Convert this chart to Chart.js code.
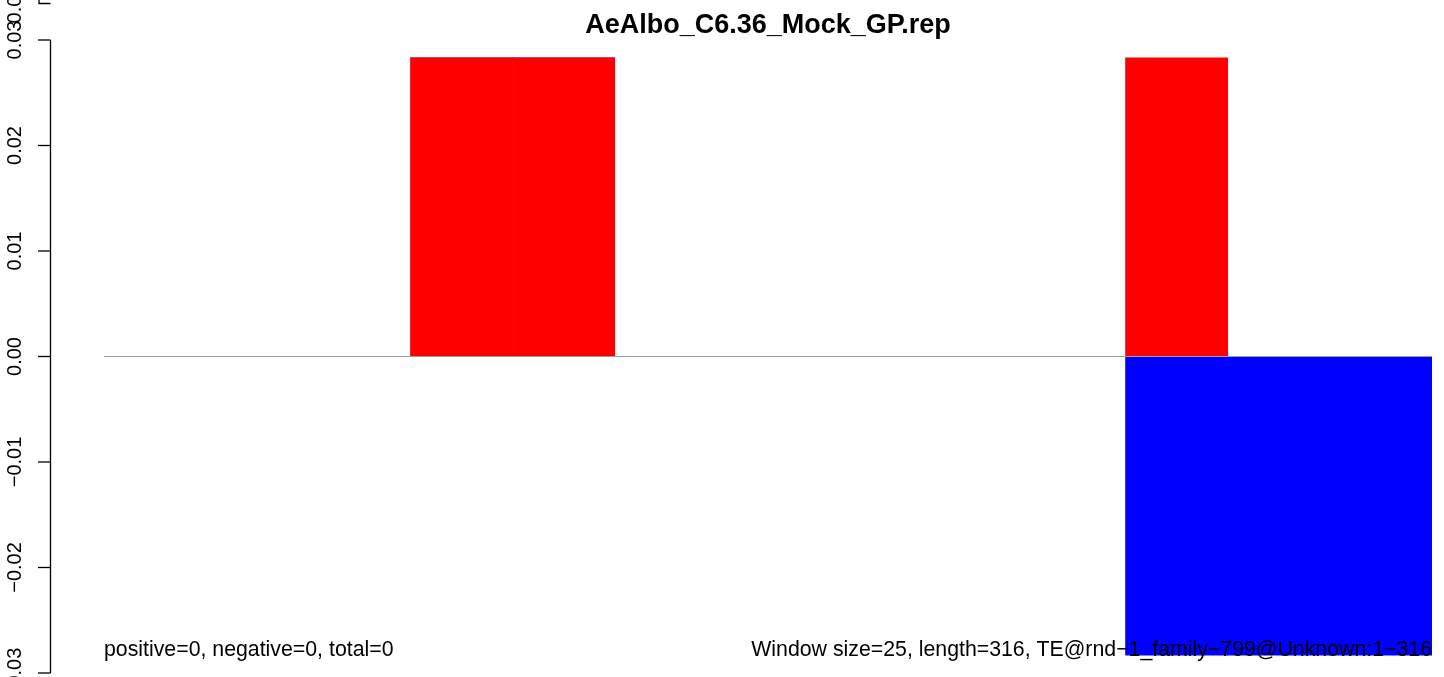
<!DOCTYPE html>
<html>
<head>
<meta charset="utf-8">
<title>AeAlbo_C6.36_Mock_GP.rep</title>
<script src="https://cdn.jsdelivr.net/npm/chart.js@4/dist/chart.umd.min.js"></script>
<style>
    html, body { margin: 0; padding: 0; background: #ffffff; }
    canvas { display: block; }
</style>
</head>
<body>
<canvas id="rep-chart" width="1444" height="677"></canvas>
<script>
// windows of 25 along the 316 bp element
var bins = ['1-25', '26-50', '51-75', '76-100', '101-125', '126-150', '151-175',
            '176-200', '201-225', '226-250', '251-275', '276-300', '301-316'];
var positiveValues = [0, 0, 0, 0.0283, 0.0283, 0, 0, 0, 0, 0, 0.0283, 0, 0];
var negativeValues = [0, 0, 0, 0, 0, 0, 0, 0, 0, 0, -0.0283, -0.0283, -0.0283];
var tickValues = [-0.03, -0.02, -0.01, 0.00, 0.01, 0.02, 0.03];
var tickLabels = ['\u22120.03', '\u22120.02', '\u22120.01', '0.00', '0.01', '0.02', '0.03'];

var chartTitle = 'AeAlbo_C6.36_Mock_GP.rep';
var leftNote = 'positive=0, negative=0, total=0';
var rightNote = 'Window size=25, length=316, TE@rnd\u22121_family\u2212799@Unknown:1\u2212316';

var fontFamily = '"Liberation Sans", Arial, Helvetica, sans-serif';

// R style axis, zero line and texts
var rDecorations = {
    id: 'rDecorations',
    afterDatasetsDraw: function(chart) {
        var ctx = chart.ctx;
        var area = chart.chartArea;
        var yScale = chart.scales.y;
        var zeroY = yScale.getPixelForValue(0);

        ctx.save();

        // horizontal line at zero
        ctx.strokeStyle = '#9c9c9c';
        ctx.lineWidth = 1.2;
        ctx.beginPath();
        ctx.moveTo(area.left, zeroY);
        ctx.lineTo(area.right, zeroY);
        ctx.stroke();

        // y axis
        var axisX = 50.5;
        ctx.strokeStyle = '#000000';
        ctx.lineWidth = 1.3;
        ctx.beginPath();
        ctx.moveTo(axisX, yScale.getPixelForValue(tickValues[tickValues.length - 1]));
        ctx.lineTo(axisX, yScale.getPixelForValue(tickValues[0]));
        ctx.stroke();

        ctx.fillStyle = '#000000';
        ctx.font = '20px ' + fontFamily;
        ctx.textAlign = 'center';
        ctx.textBaseline = 'alphabetic';
        for (var i = 0; i < tickValues.length; i++) {
            var ty = yScale.getPixelForValue(tickValues[i]);
            ctx.beginPath();
            ctx.moveTo(38, ty);
            ctx.lineTo(axisX, ty);
            ctx.stroke();

            ctx.save();
            ctx.translate(21, ty);
            ctx.rotate(-Math.PI / 2);
            ctx.fillText(tickLabels[i], 0, 0);
            ctx.restore();
        }

        // leftover of the panel above (clipped by the canvas edge)
        ctx.beginPath();
        ctx.moveTo(39, 0);
        ctx.lineTo(39, 3.5);
        ctx.lineTo(axisX, 3.5);
        ctx.stroke();
        ctx.save();
        ctx.translate(21, 4);
        ctx.rotate(-Math.PI / 2);
        ctx.fillText(tickLabels[tickLabels.length - 1], 0, 0);
        ctx.restore();

        // title
        ctx.font = 'bold 27px ' + fontFamily;
        ctx.textAlign = 'center';
        ctx.fillText(chartTitle, (area.left + area.right) / 2, 33);

        // bottom notes
        ctx.font = '21.3px ' + fontFamily;
        ctx.textAlign = 'left';
        ctx.fillText(leftNote, area.left, 656);
        ctx.textAlign = 'right';
        ctx.fillText(rightNote, area.right, 656);

        ctx.restore();
    }
};

var repChart = new Chart(document.getElementById('rep-chart'), {
    type: 'bar',
    data: {
        labels: bins,
        datasets: [{
            label: 'positive',
            data: positiveValues,
            backgroundColor: '#ff0000',
            borderWidth: 0,
            barPercentage: 1,
            categoryPercentage: 1
        }, {
            label: 'negative',
            data: negativeValues,
            backgroundColor: '#0000ff',
            borderWidth: 0,
            barPercentage: 1,
            categoryPercentage: 1
        }]
    },
    options: {
        responsive: false,
        animation: false,
        layout: {
            padding: { left: 104, right: 12, top: 40, bottom: 4 }
        },
        plugins: {
            legend: { display: false },
            tooltip: { enabled: false }
        },
        scales: {
            x: { display: false, stacked: true },
            y: { display: false, stacked: true, min: -0.03, max: 0.03 }
        }
    },
    plugins: [rDecorations]
});
</script>
</body>
</html>
